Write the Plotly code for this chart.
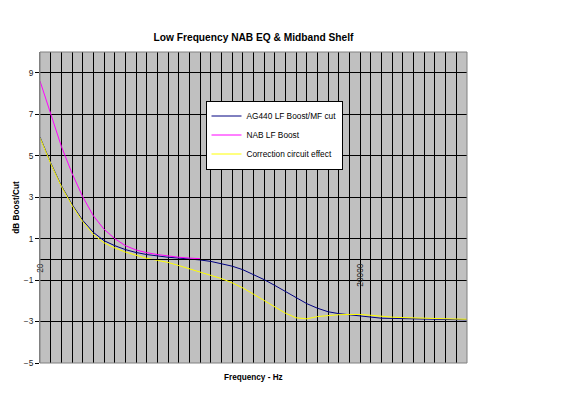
import plotly.graph_objects as go

# 1/3-octave frequency categories (Hz)
freqs = ["20", "25", "31.5", "40", "50", "63", "80", "100", "125", "160",
         "200", "250", "315", "400", "500", "630", "800", "1000", "1250", "1600",
         "2000", "2500", "3150", "4000", "5000", "6300", "8000", "10000", "12500", "16000",
         "20000", "25000", "31500", "40000", "50000", "63000", "80000", "100000", "125000", "160000",
         "200000"]

ag440 = [5.9, 4.65, 3.55, 2.65, 1.88, 1.3, 0.9, 0.66, 0.47, 0.33,
         0.23, 0.15, 0.1, 0.06, 0.02, -0.03, -0.1, -0.2, -0.33, -0.5,
         -0.74, -0.98, -1.26, -1.55, -1.86, -2.14, -2.36, -2.53, -2.62, -2.68,
         -2.75, -2.8, -2.84, -2.85, -2.86, -2.86, -2.87, -2.88, -2.89, -2.9,
         -2.92]

# NAB curve is only drawn until it merges with the 0 dB line
nab = [8.6, 7.0, 5.45, 4.15, 3.02, 2.1, 1.45, 1.0, 0.66, 0.45,
       0.32, 0.23, 0.16, 0.1, 0.06, 0.03, None, None, None, None,
       None, None, None, None, None, None, None, None, None, None,
       None, None, None, None, None, None, None, None, None, None,
       None]

correction = [5.87, 4.62, 3.52, 2.6, 1.82, 1.2, 0.8, 0.55, 0.35, 0.2,
              0.05, -0.05, -0.15, -0.3, -0.45, -0.6, -0.75, -0.93, -1.13, -1.38,
              -1.68, -1.98, -2.3, -2.6, -2.82, -2.87, -2.76, -2.7, -2.67, -2.66,
              -2.66, -2.7, -2.75, -2.79, -2.81, -2.83, -2.85, -2.86, -2.87, -2.88,
              -2.89]

shown_labels = ["20", "20000"]

FONT = "Liberation Sans, Arial, sans-serif"
pos = list(range(len(freqs)))

fig = go.Figure()
fig.add_trace(go.Scatter(x=pos, y=ag440, mode="lines", name="AG440 LF Boost/MF cut",
                         line=dict(color="#000080", width=1)))
fig.add_trace(go.Scatter(x=pos, y=nab, mode="lines", name="NAB LF Boost",
                         line=dict(color="#FF00FF", width=1)))
fig.add_trace(go.Scatter(x=pos, y=correction, mode="lines", name="Correction circuit effect",
                         line=dict(color="#FFFF00", width=1)))

ymin, ymax = -5, 10
W, H = 568, 386

fig.update_layout(
    width=W, height=H,
    margin=dict(l=32, r=109, t=44, b=31, autoexpand=False),
    paper_bgcolor="white",
    plot_bgcolor="#c0c0c0",
    font=dict(family=FONT, size=8.3, color="#000"),
    title=dict(text="<b>Low Frequency NAB EQ & Midband Shelf</b>",
               font=dict(family=FONT, size=10.2, color="#000"),
               x=(32 + 459) / 2 / W, xanchor="center",
               y=1 - 29 / H, yanchor="middle"),
    xaxis=dict(
        range=[0, len(freqs) - 1],
        tickmode="array", tickvals=pos,
        ticktext=[f if f in shown_labels else "" for f in freqs],
        tickangle=-90, ticks="",
        tickfont=dict(family=FONT, size=8.3, color="#222"),
        showgrid=True, gridcolor="#000", gridwidth=1,
        zeroline=False,
        showline=True, linecolor="#000", linewidth=1,
        anchor="free", position=(0 - ymin) / (ymax - ymin),
        layer="above traces",
    ),
    yaxis=dict(
        range=[ymin, ymax],
        tickmode="linear", tick0=-5, dtick=2,
        ticks="outside", ticklen=4, tickcolor="#000",
        tickfont=dict(family=FONT, size=8.3, color="#222"),
        showgrid=True, gridcolor="#000", gridwidth=1,
        zeroline=False,
        showline=True, linecolor="#808080", linewidth=1,
        title=dict(text="<b>dB Boost/Cut</b>", font=dict(family=FONT, size=8.2, color="#000"),
                   standoff=3),
    ),
    legend=dict(
        x=(274 - 40) / 427, xanchor="center",
        y=(363 - 135) / 311, yanchor="middle",
        bgcolor="white", bordercolor="#000", borderwidth=1,
        font=dict(family=FONT, size=8.3, color="#000"),
        tracegroupgap=0,
    ),
    showlegend=True,
)

fig.add_shape(type="rect", xref="x domain", yref="y domain", x0=0, x1=1, y0=0, y1=1,
              line=dict(color="#808080", width=1), layer="above")

fig.add_annotation(text="<b>Frequency - Hz</b>", xref="paper", yref="paper",
                   x=0.5, y=-(377 - 363) / 311, xanchor="center", yanchor="middle",
                   showarrow=False, font=dict(family=FONT, size=8.2, color="#000"))

fig.write_html("out.html")
